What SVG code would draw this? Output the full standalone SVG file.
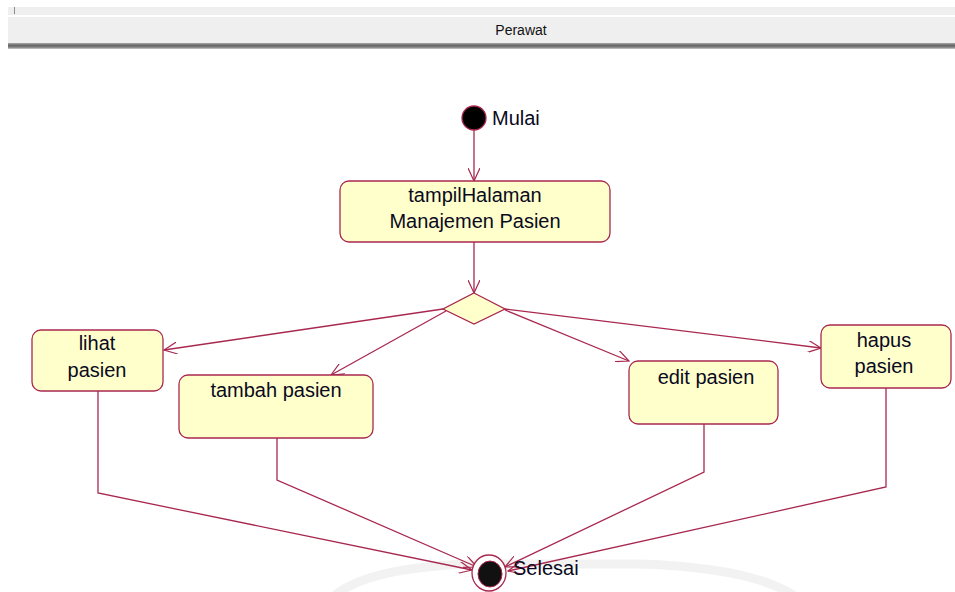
<svg xmlns="http://www.w3.org/2000/svg" width="955" height="592" viewBox="0 0 955 592">
  <defs>
    <marker id="open" viewBox="0 0 14 12" refX="13" refY="6" markerWidth="14" markerHeight="12" markerUnits="userSpaceOnUse" orient="auto">
      <path d="M0,0 L13,6 L0,12" fill="none" stroke="#a8284f" stroke-width="1.2"/>
    </marker>
    <linearGradient id="band" x1="0" y1="0" x2="0" y2="1">
      <stop offset="0" stop-color="#a8a8a8"/>
      <stop offset="0.4" stop-color="#666666"/>
      <stop offset="0.7" stop-color="#808080"/>
      <stop offset="1" stop-color="#cccccc"/>
    </linearGradient>
  </defs>
  <style>
    .act { fill: #ffffcc; stroke: #a8284f; stroke-width: 1.3; }
    .lbl { font-family: "Liberation Sans", Arial, sans-serif; font-size: 20px; fill: #0a0a1e; text-anchor: middle; }
    .side { font-family: "Liberation Sans", Arial, sans-serif; font-size: 20px; fill: #0a0a1e; }
    .flow { fill: none; stroke: #a8284f; stroke-width: 1.3; }
  </style>

  <rect width="955" height="592" fill="#ffffff"/>

  <!-- swimlane header -->
  <g id="lane-header">
    <rect x="8" y="7" width="947" height="8" fill="#efefef"/>
    <line x1="14.5" y1="7" x2="14.5" y2="14" stroke="#8c8c8c" stroke-width="1"/>
    <rect x="8" y="17" width="947" height="26" fill="#efefef"/>
    <rect x="8" y="43" width="947" height="6" fill="url(#band)"/>
    <text x="521" y="35" font-family="Liberation Sans, Arial, sans-serif" font-size="14" fill="#111" text-anchor="middle">Perawat</text>
  </g>

  <!-- faint background emblem -->
  <path d="M330,600 Q360,568 470,564 L640,564 Q760,568 800,600" fill="none" stroke="#f2f2f2" stroke-width="9"/>

  <!-- connectors -->
  <g id="connectors">
    <line class="flow" x1="474" y1="130" x2="474" y2="181" marker-end="url(#open)"/>
    <line class="flow" x1="474" y1="242" x2="474" y2="293" marker-end="url(#open)"/>
    <line class="flow" x1="443" y1="309" x2="164" y2="350" marker-end="url(#open)"/>
    <line class="flow" x1="446" y1="311" x2="331" y2="375" marker-end="url(#open)"/>
    <line class="flow" x1="505" y1="310" x2="629" y2="361" marker-end="url(#open)"/>
    <line class="flow" x1="505" y1="309" x2="821" y2="348" marker-end="url(#open)"/>
    <polyline class="flow" points="98,391 98,493 472,570" marker-end="url(#open)"/>
    <polyline class="flow" points="277,438 277,480 477,567" marker-end="url(#open)"/>
    <polyline class="flow" points="704,424 704,472 505,567" marker-end="url(#open)"/>
    <polyline class="flow" points="886,388 886,487 508,571" marker-end="url(#open)"/>
  </g>

  <g id="start">
    <circle cx="474" cy="118" r="12" fill="#000" stroke="#a8284f" stroke-width="1.3"/>
    <text class="side" x="492" y="125">Mulai</text>
  </g>

  <g id="tampil-halaman">
    <rect class="act" x="340" y="181" width="270" height="61" rx="9"/>
    <text class="lbl" x="475" y="202">tampilHalaman</text>
    <text class="lbl" x="475" y="228">Manajemen Pasien</text>
  </g>

  <g id="decision">
    <polygon points="474,293 505,309 474,324 443,309" fill="#ffffcc" stroke="#a8284f" stroke-width="1.3"/>
  </g>

  <g id="lihat-pasien">
    <rect class="act" x="32" y="330" width="131" height="61" rx="9"/>
    <text class="lbl" x="97" y="350">lihat</text>
    <text class="lbl" x="97" y="377">pasien</text>
  </g>

  <g id="tambah-pasien">
    <rect class="act" x="179" y="375" width="194" height="63" rx="9"/>
    <text class="lbl" x="276" y="397">tambah pasien</text>
  </g>

  <g id="edit-pasien">
    <rect class="act" x="629" y="361" width="149" height="63" rx="9"/>
    <text class="lbl" x="706" y="384">edit pasien</text>
  </g>

  <g id="hapus-pasien">
    <rect class="act" x="821" y="325" width="130" height="63" rx="9"/>
    <text class="lbl" x="884" y="347">hapus</text>
    <text class="lbl" x="884" y="373">pasien</text>
  </g>

  <g id="end">
    <ellipse cx="489" cy="573" rx="17" ry="18" fill="#fff" stroke="#a8284f" stroke-width="1.3"/>
    <ellipse cx="490" cy="574" rx="12" ry="13" fill="#111" stroke="#a8284f" stroke-width="1"/>
    <text class="side" x="513" y="575">Selesai</text>
  </g>
</svg>
